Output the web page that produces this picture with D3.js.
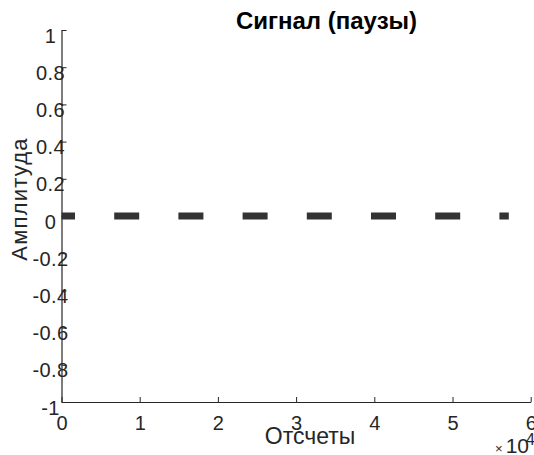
<!DOCTYPE html>
<html>
<head>
<meta charset="utf-8">
<title>Сигнал (паузы)</title>
<script src="https://cdn.jsdelivr.net/npm/d3@7"></script>
<style>
  body { margin: 0; background: #fff; }
  text { font-family: "Liberation Sans", Arial, sans-serif; fill: #262626; }
</style>
</head>
<body>
<svg id="chart" width="534" height="455"></svg>
<script>
// signal: zero over the whole record, drawn dashed
const signalX = [0, 57200];
const signalY = [0, 0];

const xTicks = [0, 10000, 20000, 30000, 40000, 50000, 60000];
const xTickLabels = ["0", "1", "2", "3", "4", "5", "6"];
const yTicks = [-1, -0.8, -0.6, -0.4, -0.2, 0, 0.2, 0.4, 0.6, 0.8, 1];
const yTickLabels = ["-1", "-0.8", "-0.6", "-0.4", "-0.2", "0", "0.2", "0.4", "0.6", "0.8", "1"];

const svg = d3.select("#chart");

const x = d3.scaleLinear().domain([0, 60000]).range([61.5, 530.7]);
const y = d3.scaleLinear().domain([-1, 1]).range([402, 30]);

// bottom axis, ticks inward
const xAxis = d3.axisBottom(x)
  .tickValues(xTicks)
  .tickSizeInner(-5)
  .tickSizeOuter(0)
  .tickFormat((d, i) => xTickLabels[i]);

const gx = svg.append("g")
  .attr("transform", `translate(0,${y(-1)})`)
  .call(xAxis);

gx.select(".domain").attr("stroke", "#262626").attr("stroke-width", 1.2);
gx.selectAll(".tick line").attr("stroke", "#262626");
gx.selectAll(".tick text")
  .attr("y", 28)
  .attr("dy", 0)
  .style("font-size", "20px")
  .style("fill", "#262626");

// left axis, ticks inward
const yAxis = d3.axisLeft(y)
  .tickValues(yTicks)
  .tickSizeInner(-5)
  .tickSizeOuter(0)
  .tickFormat((d, i) => yTickLabels[i]);

const gy = svg.append("g")
  .attr("transform", `translate(${x(0)},0)`)
  .call(yAxis);

gy.select(".domain").attr("stroke", "#262626").attr("stroke-width", 1.2);
gy.selectAll(".tick line").attr("stroke", "#262626");
gy.selectAll(".tick text")
  .attr("x", -11)
  .attr("dy", 12)
  .attr("text-anchor", "middle")
  .style("font-size", "20px")
  .style("letter-spacing", "0.4px")
  .style("fill", "#262626");

// the signal line
const line = d3.line().x(d => x(d[0])).y(d => y(d[1]));
svg.append("path")
  .datum(d3.zip(signalX, signalY))
  .attr("d", line)
  .attr("fill", "none")
  .attr("stroke", "#333333")
  .attr("stroke-width", 7)
  .attr("stroke-dasharray", "25 39.2")
  .attr("stroke-dashoffset", 11.5);

// labels
svg.append("text")
  .attr("x", 326.5)
  .attr("y", 29)
  .attr("text-anchor", "middle")
  .style("font-size", "24px")
  .style("font-weight", "bold")
  .style("fill", "#000")
  .text("Сигнал (паузы)");

svg.append("text")
  .attr("x", 310)
  .attr("y", 444)
  .attr("text-anchor", "middle")
  .style("font-size", "23px")
  .text("Отсчеты");

svg.append("text")
  .attr("transform", "translate(26.5,199) rotate(-90)")
  .attr("text-anchor", "middle")
  .style("font-size", "22px")
  .style("letter-spacing", "1.2px")
  .text("Амплитуда");

// exponent of the x axis
const expo = svg.append("text")
  .attr("x", 529)
  .attr("y", 453)
  .attr("text-anchor", "end")
  .style("font-size", "21px");
expo.append("tspan").style("font-size", "13px").attr("dx", 0).text("×");
expo.append("tspan").attr("dx", 3).text("10");
svg.append("text")
  .attr("x", 526)
  .attr("y", 445)
  .style("font-size", "16px")
  .text("4");
</script>
</body>
</html>
